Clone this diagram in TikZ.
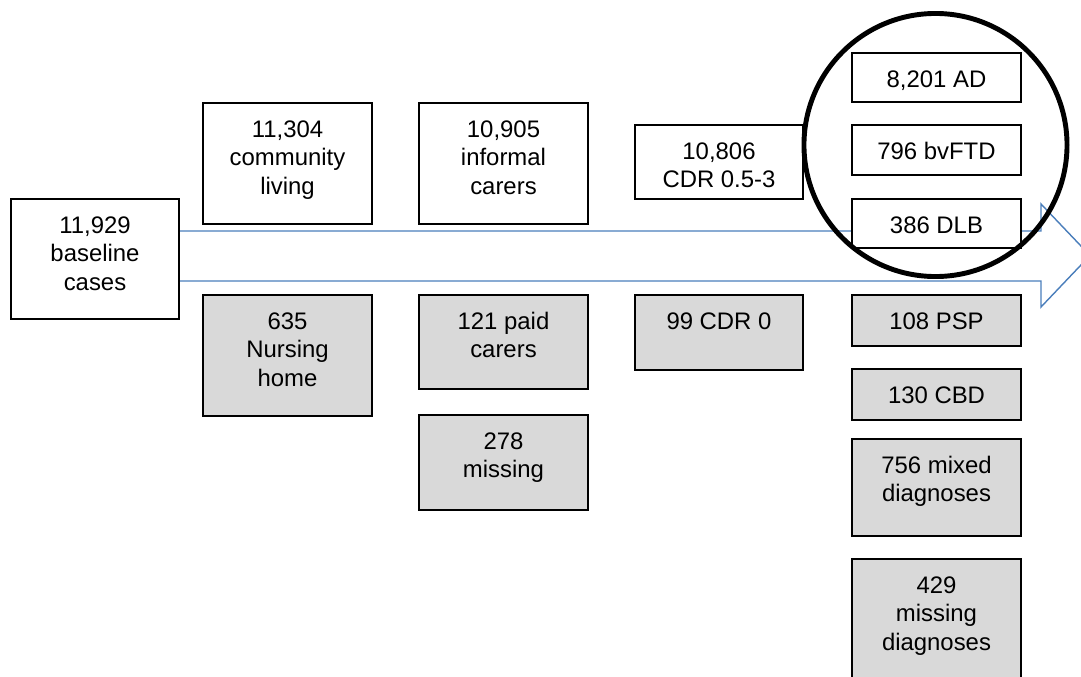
\documentclass[tikz,border=0pt]{standalone}
\usepackage{fontspec}
\setmainfont{Liberation Sans}
\usetikzlibrary{positioning}
\usetikzlibrary{backgrounds}
\newlength{\pxu}
\setlength{\pxu}{0.025cm}
\definecolor{flowblue}{RGB}{74,126,187}
\definecolor{lostgray}{RGB}{217,217,217}
\newcommand{\cell}[3]{\parbox[c][#2\pxu][t]{#1\pxu}{\centering\rule{0pt}{34\pxu}#3}}

\begin{document}
\begin{tikzpicture}[x=0.025cm, y=-0.025cm,
    box/.style={draw=black, line width=2pt, inner sep=0pt, outer sep=0pt, font=\fontsize{17pt}{20.3pt}\selectfont},
    kept/.style={box, fill=white},
    lost/.style={box, fill=lostgray},
    flow/.style={draw=flowblue, line width=1pt, line join=miter},
    ring/.style={circle, draw=black, line width=3.5pt, minimum size=6.575cm, inner sep=0pt}]
    \useasboundingbox (0,0) rectangle (1081,677);

    \node[kept, anchor=north west] (base) at (11,199) {\cell{168}{120}{11,929\\baseline\\cases}};

    \node[kept, anchor=north west] (comm) at (203,103) {\cell{169}{121}{11,304\\community\\living}};
    \node[lost, below = 71\pxu of comm] (nurs) {\cell{169}{121}{635\\Nursing\\home}};

    \node[kept, anchor=north west] (carer) at (419,103) {\cell{169}{121}{10,905\\informal\\carers}};
    \node[lost, below = 71\pxu of carer] (paid) {\cell{169}{94}{121 paid\\carers}};
    \node[lost, below = 26\pxu of paid] (miss) {\cell{169}{95}{278\\missing}};

    \node[kept, anchor=north west] (cdr) at (635,125) {\cell{168}{74}{10,806\\CDR 0.5-3}};
    \node[lost, below = 96\pxu of cdr] (cdrzero) {\cell{168}{75}{99 CDR 0}};

    \node[kept, anchor=north west] (ad) at (852,53) {\cell{169}{49}{8,201 AD}};
    \node[kept, below = 23\pxu of ad] (ftd) {\cell{169}{50}{796 bvFTD}};
    \node[kept, below = 24\pxu of ftd] (dlb) {\cell{169}{49}{386 DLB}};
    \node[lost, below = 47\pxu of dlb] (psp) {\cell{169}{51}{108 PSP}};
    \node[lost, below = 23\pxu of psp] (cbd) {\cell{169}{51}{130 CBD}};
    \node[lost, below = 19\pxu of cbd] (mix) {\cell{169}{97}{756 mixed\\diagnoses}};
    \node[lost, below = 23\pxu of mix] (mdx) {\cell{169}{125}{429\\missing\\diagnoses}};

    % big arrow behind the boxes
    \begin{scope}[on background layer]
        \clip (0,0) rectangle (1081,677);
        \draw[flow] ([yshift=0.7cm]base.east) -- (1041,231) -- (1041,204) -- (1090,255.5)
            -- (1041,307) -- (1041,281) -- ([yshift=-0.55cm]base.east);
    \end{scope}

    \node[ring] (focus) at (935.5,145) {};
\end{tikzpicture}
\end{document}
